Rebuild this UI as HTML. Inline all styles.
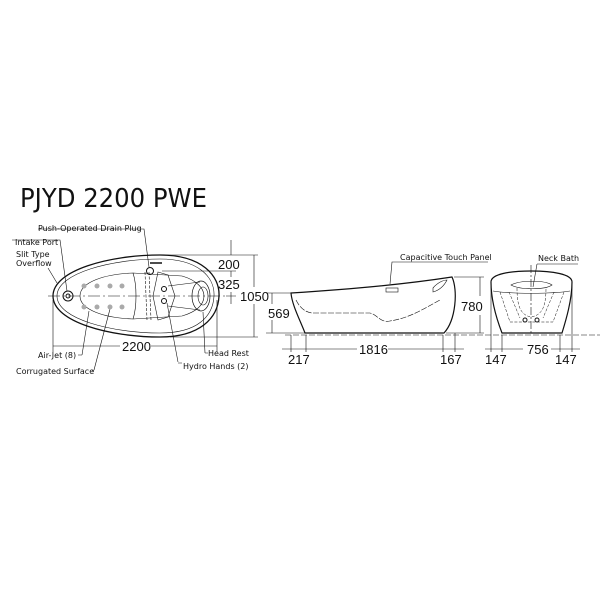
<!DOCTYPE html>
<html><head><meta charset="utf-8"><style>
html,body{margin:0;padding:0;background:#fff;}
svg{display:block;}
text{font-family:"DejaVu Sans","Liberation Sans",sans-serif;fill:#111;}
.s{font-size:8px;}
.n{font-size:13px;font-family:"Liberation Sans",sans-serif;}
</style></head><body>
<svg width="600" height="600" viewBox="0 0 600 600" xmlns="http://www.w3.org/2000/svg">
<text x="20" y="207" font-size="26" textLength="187" lengthAdjust="spacingAndGlyphs">PJYD 2200 PWE</text>

<g fill="none" stroke="#111" stroke-width="1">
<path d="M53,296 C53,270 110,255 160,255 C202,255 220,276 219,296 C218,318 200,337 160,337 C110,337 53,322 53,296 Z" stroke-width="1.3"/>
<path d="M57,296 C57,273 112,259 160,259 C198,259 215,277 214,296 C213,316 198,333 160,333 C112,333 57,319 57,296 Z" stroke-width="0.6"/>
<path d="M80,296 C80,282 105,274 133,273 L182,276 C196,280 204,288 204,296 C204,305 196,312 182,316 L133,319 C105,318 80,310 80,296 Z" stroke-width="0.6"/>
<path d="M133,273 C137,285 137,307 133,319" stroke-width="0.6"/>
<path d="M145,272 L147,320 M149,272 L151,320" stroke-width="0.6" stroke-dasharray="3,1.5"/>
<path d="M158,272 L168,275 L175,296 L168,317 L158,320 L153,296 Z" stroke-width="0.6"/>
<path d="M168,286 L200,282 M168,306 L200,310" stroke-width="0.6"/>
<ellipse cx="201" cy="296" rx="9" ry="15" stroke-width="0.7"/>
<ellipse cx="203" cy="296" rx="5" ry="9" stroke-width="0.6"/>
<circle cx="68" cy="296" r="5"/>
<circle cx="68" cy="296" r="2"/>
<circle cx="150" cy="271" r="3.5"/>
<circle cx="164" cy="289" r="2.5"/>
<circle cx="164" cy="301" r="2.5"/>
<path d="M150,263 L162,263" stroke-width="1.5"/>
<path d="M48,296 L226,296" stroke-width="0.6" stroke-dasharray="12,3,2,3"/>
<path d="M160,255 L258,255 M162,271 L236,271 M226,296 L236,296 M170,337 L258,337" stroke-width="0.6"/>
<path d="M231,240 L231,255 M231,271 L231,277 M231,292 L231,304" stroke-width="0.6"/>
<path d="M254,255 L254,287 M254,304 L254,337" stroke-width="0.6"/>
<path d="M53,300 L53,352 M217,300 L217,352" stroke-width="0.6"/>
<path d="M53,346 L120,346 M151,346 L217,346" stroke-width="0.6"/>
<path d="M12,240 L60,240 L67,291" stroke-width="0.6"/>
<path d="M48,268 L57,283" stroke-width="0.6"/>
<path d="M38,229 L144,229 L149,267" stroke-width="0.6"/>
<path d="M82,355 L89,311 M94,370 L110,309 M178,362 L167,303 M205,353 L203,312" stroke-width="0.6"/>
<path d="M78,355 L82,355 M92,371 L94,370 M178,363 L182,363 M205,353 L208,353" stroke-width="0.6"/>

<path d="M291,293 C340,290 400,285 452,277 C458,290 456,320 444,333 L305,333 C300,320 292,305 291,293 Z" stroke-width="1.2"/>
<path d="M296,300 C300,308 305,312 312,313 L370,313 C378,315 380,323 390,321 C410,318 425,308 440,300" stroke-width="0.6" stroke-dasharray="6,1.5"/>
<path d="M433,288 C438,282 444,280 447,280 C444,286 440,290 433,292 Z" stroke-width="0.6"/>
<rect x="386" y="288" width="12" height="4" stroke-width="0.6"/>
<path d="M390,284 L392,262 L488,262" stroke-width="0.6"/>
<path d="M285,335 L600,335" stroke-width="0.6" stroke-dasharray="6,2"/>
<path d="M266,293 L292,293 M266,333 L305,333 M454,277 L484,277 M446,333 L484,333" stroke-width="0.6"/>
<path d="M272,293 L272,304 M272,320 L272,333 M480,277 L480,296 M480,315 L480,333" stroke-width="0.6"/>
<path d="M291,335 L291,352 M306,335 L306,352 M443,335 L443,352 M455,333 L455,352" stroke-width="0.6"/>
<path d="M282,349 L357,349 M388,349 L464,349" stroke-width="0.6"/>

<path d="M491,282 C491,274 510,271 531,271 C552,271 572,274 572,282 C572,300 566,320 562,333 L502,333 C497,320 491,300 491,282 Z" stroke-width="1.2"/>
<path d="M493,291 C510,294 553,294 570,291" stroke-width="0.6"/>
<path d="M511,285 C520,280 545,280 552,285 C545,290 520,290 511,285 Z" stroke-width="0.6"/>
<path d="M517,288 C517,305 520,315 531,317 C543,315 546,305 546,288" stroke-width="0.5" stroke-dasharray="3,1.5"/>
<path d="M500,292 L510,322 L553,322 L564,292 M509,292 L520,318 M554,292 L543,318" stroke-width="0.5" stroke-dasharray="3,1.5"/>
<circle cx="525" cy="320" r="2"/><circle cx="537" cy="320" r="2"/>
<path d="M531,265 L531,333" stroke-width="0.6" stroke-dasharray="8,2,2,2"/>
<path d="M537,264 L578,264 M537,264 L533,287" stroke-width="0.6"/>
<path d="M491,284 L491,352 M502,335 L502,352 M560,335 L560,352 M572,284 L572,352" stroke-width="0.6"/>
<path d="M485,349 L523,349 M551,349 L580,349" stroke-width="0.6"/>
</g>
<g fill="#aaa">
<circle cx="84" cy="286" r="2.5"/><circle cx="97" cy="286" r="2.5"/><circle cx="110" cy="286" r="2.5"/><circle cx="122" cy="286" r="2.5"/>
<circle cx="84" cy="307" r="2.5"/><circle cx="97" cy="307" r="2.5"/><circle cx="110" cy="307" r="2.5"/><circle cx="122" cy="307" r="2.5"/>
</g>

<text class="s" x="38" y="231">Push-Operated Drain Plug</text>
<text class="s" x="15" y="245">Intake Port</text>
<text class="s" x="16" y="257">Slit Type</text>
<text class="s" x="16" y="266">Overflow</text>
<text class="s" x="38" y="358">Air-Jet (8)</text>
<text class="s" x="16" y="374">Corrugated Surface</text>
<text class="s" x="208" y="356">Head Rest</text>
<text class="s" x="183" y="369">Hydro Hands (2)</text>
<text class="n" x="218" y="269">200</text>
<text class="n" x="218" y="289">325</text>
<text class="n" x="240" y="301">1050</text>
<text class="n" x="122" y="351">2200</text>

<text class="s" x="400" y="260">Capacitive Touch Panel</text>
<text class="n" x="268" y="318">569</text>
<text class="n" x="461" y="311">780</text>
<text class="n" x="288" y="364">217</text>
<text class="n" x="359" y="354">1816</text>
<text class="n" x="440" y="364">167</text>

<text class="s" x="538" y="261">Neck Bath</text>
<text class="n" x="485" y="364">147</text>
<text class="n" x="527" y="354">756</text>
<text class="n" x="555" y="364">147</text>
</svg>
</body></html>
